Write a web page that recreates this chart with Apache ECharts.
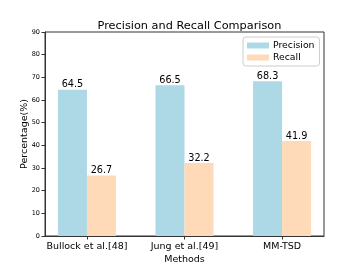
<!DOCTYPE html>
<html><head><meta charset="utf-8">
<script src="https://cdn.jsdelivr.net/npm/echarts@6/dist/echarts.min.js"></script>
<style>html,body{margin:0;padding:0;background:#fff}#c{width:360px;height:270px}</style>
</head><body><div id="c"></div>
<script>
const categories = ['Bullock et al.[48]', 'Jung et al.[49]', 'MM-TSD'];
const precision = [64.5, 66.5, 68.3];
const recall = [26.7, 32.2, 41.9];
const yTicks = [0, 10, 20, 30, 40, 50, 60, 70, 80, 90];

const font = 'DejaVu Sans';
const chart = echarts.init(document.getElementById('c'), null, {renderer: 'canvas'});
const pos = categories.map((_, i) => i);
chart.setOption({
  animation: false,
  textStyle: {fontFamily: font},
  title: {text: 'Precision and Recall Comparison', left: 184.5, textAlign: 'center', top: 16,
    textStyle: {fontFamily: font, fontSize: 11.3, fontWeight: 'normal', color: '#000'}},
  legend: {
    orient: 'vertical', left: 243, top: 37, itemWidth: 22, itemHeight: 6, itemGap: 3,
    icon: 'rect', borderColor: '#ccc', borderWidth: 1, borderRadius: 3, padding: [4, 5, 4, 4],
    textStyle: {fontFamily: font, fontSize: 9.3, color: '#000', padding: [0, 0, 0, -1]},
    data: ['Precision', 'Recall']
  },
  grid: {left: 45, top: 32, width: 279, height: 208, show: true, borderColor: '#333', borderWidth: 1},
  xAxis: {
    type: 'value', min: -0.43, max: 2.43,
    axisLine: {show: true, onZero: false, lineStyle: {color: '#333'}},
    axisTick: {show: true, customValues: pos, length: 3.5, lineStyle: {color: '#333'}},
    axisLabel: {customValues: pos, formatter: v => categories[Math.round(v)] || '',
      fontSize: 9.5, color: '#000', margin: 6, fontFamily: font},
    splitLine: {show: false},
    name: 'Methods', nameLocation: 'middle', nameGap: 19, nameMoveOverlap: false,
    nameTextStyle: {fontSize: 9.5, color: '#000', fontFamily: font}
  },
  yAxis: {
    type: 'value', min: 0, max: 90, interval: 10,
    axisLine: {show: true, onZero: false, lineStyle: {color: '#333'}},
    axisTick: {show: true, length: 3.5, lineStyle: {color: '#333'}},
    axisLabel: {fontSize: 6.5, color: '#000', margin: 5, fontFamily: font},
    splitLine: {show: false},
    name: 'Percentage(%)', nameLocation: 'middle', nameGap: 15, nameMoveOverlap: false,
    nameTextStyle: {fontSize: 9.5, color: '#000', fontFamily: font}
  },
  series: [
    {name: 'Precision', type: 'bar', barWidth: 29, barGap: '0%',
     itemStyle: {color: '#ADD8E6'},
     label: {show: true, position: 'top', distance: 0, fontSize: 9.7, color: '#000', fontFamily: font,
       formatter: p => p.value[1].toFixed(1)},
     data: precision.map((v, i) => [i, v])},
    {name: 'Recall', type: 'bar', barWidth: 29, barGap: '0%',
     itemStyle: {color: '#FFDAB9'},
     label: {show: true, position: 'top', distance: 0, fontSize: 9.7, color: '#000', fontFamily: font,
       formatter: p => p.value[1].toFixed(1)},
     data: recall.map((v, i) => [i, v])}
  ]
});
</script></body></html>
